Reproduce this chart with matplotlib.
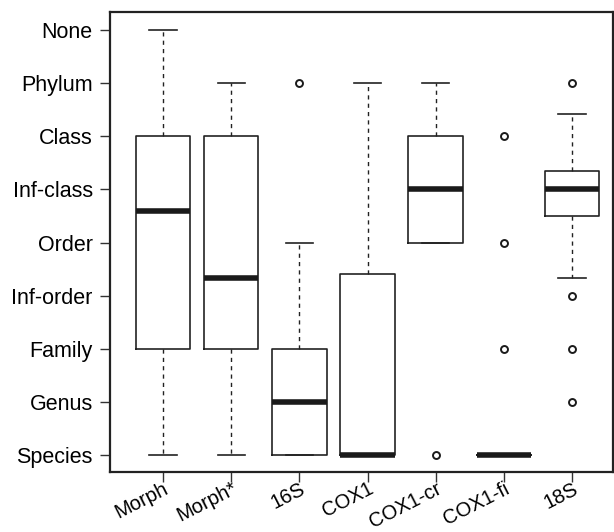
import matplotlib
matplotlib.use("Agg")
import matplotlib.pyplot as plt

plt.rcParams['font.family'] = ['Liberation Sans', 'DejaVu Sans']

categories = ["Morph", "Morph*", "16S", "COX1", "COX1-cr", "COX1-fi", "18S"]
rank_labels = ["Species", "Genus", "Family", "Inf-order", "Order",
               "Inf-class", "Class", "Phylum", "None"]
whislo = [0, 0, 0, 0, 4, 0, 3.33]
q1 = [2, 2, 0, 0, 4, 0, 4.5]
med = [4.59, 3.34, 1, 0, 5, 0, 5]
q3 = [6, 6, 2, 3.41, 6, 0, 5.35]
whishi = [8, 7, 4, 7, 7, 0, 6.42]
fliers = [[], [], [7], [], [0], [2, 4, 6], [7, 3, 2, 1]]

stats = []
for i, name in enumerate(categories):
    stats.append(dict(label=name, whislo=whislo[i], q1=q1[i], med=med[i],
                      q3=q3[i], whishi=whishi[i], fliers=fliers[i]))

fig = plt.figure(figsize=(6.14, 5.32), dpi=100)
ax = fig.add_axes([110/614, 1 - 472/532, (613 - 110)/614, (472 - 12)/532])

ax.bxp(stats, positions=range(1, len(categories) + 1), widths=0.8,
       showfliers=True, patch_artist=False,
       boxprops=dict(color='#222222', linewidth=1.2),
       medianprops=dict(color='#1a1a1a', linewidth=4.0, solid_capstyle='butt'),
       whiskerprops=dict(color='#222222', linewidth=1.0, linestyle=(0, (3, 3))),
       capprops=dict(color='#222222', linewidth=1.2),
       flierprops=dict(marker='o', markersize=5, markerfacecolor='none',
                       markeredgecolor='#1a1a1a', markeredgewidth=1.4),
       capwidths=0.4)

ax.set_xlim(0.222, 7.60)
ax.set_ylim(-0.32, 8.34)
ax.set_yticks(range(len(rank_labels)))
ax.set_yticklabels(rank_labels, fontsize=15.5)
ax.set_xticks(range(1, len(categories) + 1))
ax.set_xticklabels(categories, fontsize=14.5, rotation=27, ha='right',
                   va='top', rotation_mode='anchor')
ax.tick_params(axis='both', length=7.5, width=1.0, color='#333333')
ax.tick_params(axis='y', pad=5)
ax.tick_params(axis='x', pad=-2.5)
for side in ['left', 'bottom', 'top', 'right']:
    ax.spines[side].set_linewidth(1.6)
    ax.spines[side].set_color('#222222')

fig.savefig("out.png", dpi=100)
